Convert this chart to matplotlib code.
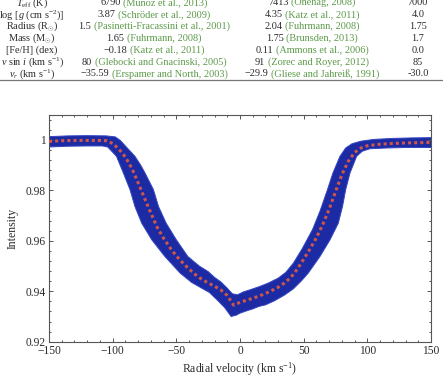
import matplotlib
matplotlib.use("Agg")
import matplotlib.pyplot as plt
import numpy as np
from matplotlib.lines import Line2D
from matplotlib.ticker import FuncFormatter, MultipleLocator

plt.rcParams["font.family"] = ["Liberation Serif", "DejaVu Serif"]
plt.rcParams["mathtext.fontset"] = "custom"
plt.rcParams["mathtext.rm"] = "Liberation Serif"
plt.rcParams["mathtext.it"] = "Liberation Serif:italic"
plt.rcParams["mathtext.bf"] = "Liberation Serif:bold"

W, H = 443, 378
BAND = "#1c2ba3"
BAND_EDGE = "#3446c0"
MEAN_RED = "#d0564a"
CITE = "#5c9a4a"
INK = "#2b2b2b"
AXIS = "#555555"

# mean line profile (red dotted)
velocity = [-150, -140, -130, -120, -110, -105, -100, -95, -90, -85, -80, -75, -70,
            -65, -60, -55, -50, -45, -40, -35, -30, -25, -20, -15, -10, -5,
            0, 5, 10, 15, 20, 25, 30, 35, 40, 45, 50, 55, 60, 65, 70, 75, 80,
            85, 90, 95, 100, 110, 120, 130, 140, 150]
mean_intensity = [0.9994, 0.9997, 0.9998, 0.9998, 0.9998, 0.9997, 0.9986, 0.9963,
                  0.9932, 0.9888, 0.9830, 0.9769, 0.9710, 0.9653, 0.9610, 0.9573,
                  0.9540, 0.9513, 0.9488, 0.9466, 0.9447, 0.9433, 0.9420, 0.9405,
                  0.9383, 0.9345, 0.9356, 0.9364, 0.9372, 0.9381, 0.9391, 0.9403,
                  0.9416, 0.9433, 0.9455, 0.9488, 0.9527, 0.9568, 0.9612, 0.9665,
                  0.9725, 0.9795, 0.9862, 0.9915, 0.9950, 0.9968, 0.9977, 0.9983,
                  0.9986, 0.9988, 0.9989, 0.9990]

# envelope of the individual profiles (blue band)
upper_v = [-150, -135, -120, -105, -98, -94, -88, -82.5, -78, -74.6, -68, -64, -58,
           -50, -41, -32, -25, -20, -15, -10, -6, -2, 3, 8, 15, 22, 30, 36, 42, 49,
           57, 63, 68.5, 73, 78.5, 83, 88, 95, 105, 120, 135, 150]
upper_i = [1.0013, 1.0016, 1.0017, 1.0016, 1.0012, 0.9998, 0.9965, 0.9935, 0.9900,
           0.9869, 0.9803, 0.9736, 0.9670, 0.9604, 0.9538, 0.9500, 0.9478, 0.9455,
           0.9437, 0.9412, 0.9390, 0.9386, 0.9398, 0.9406, 0.9418, 0.9432, 0.9452,
           0.9475, 0.9512, 0.9570, 0.9645, 0.9720, 0.9800, 0.9869, 0.9935, 0.9968,
           0.9985, 0.9995, 1.0002, 1.0006, 1.0008, 1.0009]
lower_v = [-150, -135, -120, -108, -104, -102, -97, -91.6, -86.4, -82.5, -77.2, -69.3,
           -59, -47, -38, -30, -24, -18, -12, -7, -3, 0, 5, 10, 15, 20, 27, 35, 42,
           48, 53.6, 62.8, 70.7, 77.2, 80.5, 83, 86.4, 91.6, 96, 102, 115, 130, 150]
lower_i = [0.9972, 0.9975, 0.9976, 0.9976, 0.9972, 0.9962, 0.9935, 0.9869, 0.9803,
           0.9736, 0.9670, 0.9604, 0.9538, 0.9472, 0.9435, 0.9412, 0.9395, 0.9366,
           0.9335, 0.9300, 0.9305, 0.9313, 0.9322, 0.9330, 0.9340, 0.9346, 0.9362,
           0.9385, 0.9410, 0.9440, 0.9472, 0.9538, 0.9604, 0.9670, 0.9736, 0.9803,
           0.9869, 0.9935, 0.9955, 0.9965, 0.9968, 0.9970, 0.9970]

# stellar parameter table above the figure
param_labels = [r"$T_{\mathrm{eff}}$ (K)", r"log [$g$ (cm s$^{-2}$)]", r"Radius (R$_{\odot}$)",
                r"Mass (M$_{\odot}$)", "[Fe/H] (dex)", r"$v$ sin $i$ (km s$^{-1}$)",
                r"$v_r$ (km s$^{-1}$)"]
star_a_values = ["6790", "3.87", "1.5", "1.65", "\u22120.18", "80", "\u221235.59"]
star_a_refs = ["(Muñoz et al., 2013)", "(Schröder et al., 2009)",
               "(Pasinetti-Fracassini et al., 2001)", "(Fuhrmann, 2008)",
               "(Katz et al., 2011)", "(Glebocki and Gnacinski, 2005)",
               "(Erspamer and North, 2003)"]
star_b_values = ["7413", "4.35", "2.04", "1.75", "0.11", "91", "\u221229.9"]
star_b_refs = ["(Önehag, 2008)", "(Katz et al., 2011)", "(Fuhrmann, 2008)",
               "(Brunsden, 2013)", "(Ammons et al., 2006)", "(Zorec and Royer, 2012)",
               "(Gliese and Jahreiß, 1991)"]
adopted = ["7000", "4.0", "1.75", "1.7", "0.0", "85", "-30.0"]


def fx(px):
    return px / W


def fy(px):
    return 1 - px / H


fig = plt.figure(figsize=(W / 100, H / 100), dpi=100)
fig.patch.set_facecolor("white")
renderer = fig.canvas.get_renderer()

TABLE_FS = 7.4
row_base = [5.4 + 11.85 * k for k in range(len(param_labels))]


def text_width(s):
    t = fig.text(0, 0, s, fontsize=TABLE_FS)
    w = t.get_window_extent(renderer).width
    t.remove()
    return w


def cell(x_px, y_px, value, ref):
    # value in ink, citation in green, the pair centred on the column
    total = text_width(value + " " + ref)
    left = x_px - total / 2
    fig.text(fx(left), fy(y_px), value, ha="left", va="baseline",
             fontsize=TABLE_FS, color=INK)
    fig.text(fx(left + total), fy(y_px), ref, ha="right", va="baseline",
             fontsize=TABLE_FS, color=CITE)


for k, yb in enumerate(row_base):
    fig.text(fx(32), fy(yb), param_labels[k], ha="center", va="baseline",
             fontsize=TABLE_FS, color=INK)
    cell(154, yb, star_a_values[k], star_a_refs[k])
    cell(312, yb, star_b_values[k], star_b_refs[k])
    fig.text(fx(418), fy(yb), adopted[k], ha="center", va="baseline",
             fontsize=TABLE_FS, color=INK)

fig.add_artist(Line2D([0, 1], [fy(79.5)] * 2, color="#777777", lw=0.9,
                      transform=fig.transFigure))

# main panel
ax = fig.add_axes([fx(49), fy(341.7), 382 / W, (341.7 - 114.7) / H])

ax.fill(np.concatenate([upper_v, lower_v[::-1]]),
        np.concatenate([upper_i, lower_i[::-1]]),
        color=BAND, lw=0, zorder=1)
ax.plot(upper_v, upper_i, color=BAND_EDGE, lw=0.7, zorder=2)
ax.plot(lower_v, lower_i, color=BAND_EDGE, lw=0.7, zorder=2)
ax.plot(velocity, mean_intensity, color=MEAN_RED, lw=2.2,
        linestyle=(0, (1, 1)), zorder=3)

ax.set_xlim(-150, 150)
ax.set_ylim(0.92, 1.01)
ax.xaxis.set_major_locator(MultipleLocator(50))
ax.xaxis.set_minor_locator(MultipleLocator(10))
ax.yaxis.set_major_locator(MultipleLocator(0.02))
ax.yaxis.set_minor_locator(MultipleLocator(0.004))
ax.yaxis.set_major_formatter(FuncFormatter(lambda v, p: f"{v:g}"))

ax.tick_params(which="both", direction="in", top=True, right=True,
               color=AXIS, labelcolor=INK, labelsize=8.3, width=0.7)
ax.tick_params(which="major", length=3.2, pad=2.5)
ax.tick_params(which="minor", length=1.7)
for s in ax.spines.values():
    s.set_color(AXIS)
    s.set_linewidth(0.8)

ax.set_xlabel(r"Radial velocity (km s$^{-1}$)", fontsize=8.5, color=INK, labelpad=2)
ax.set_ylabel("Intensity", fontsize=8.5, color=INK, labelpad=5)

fig.savefig("out.png", dpi=100, facecolor="white")
